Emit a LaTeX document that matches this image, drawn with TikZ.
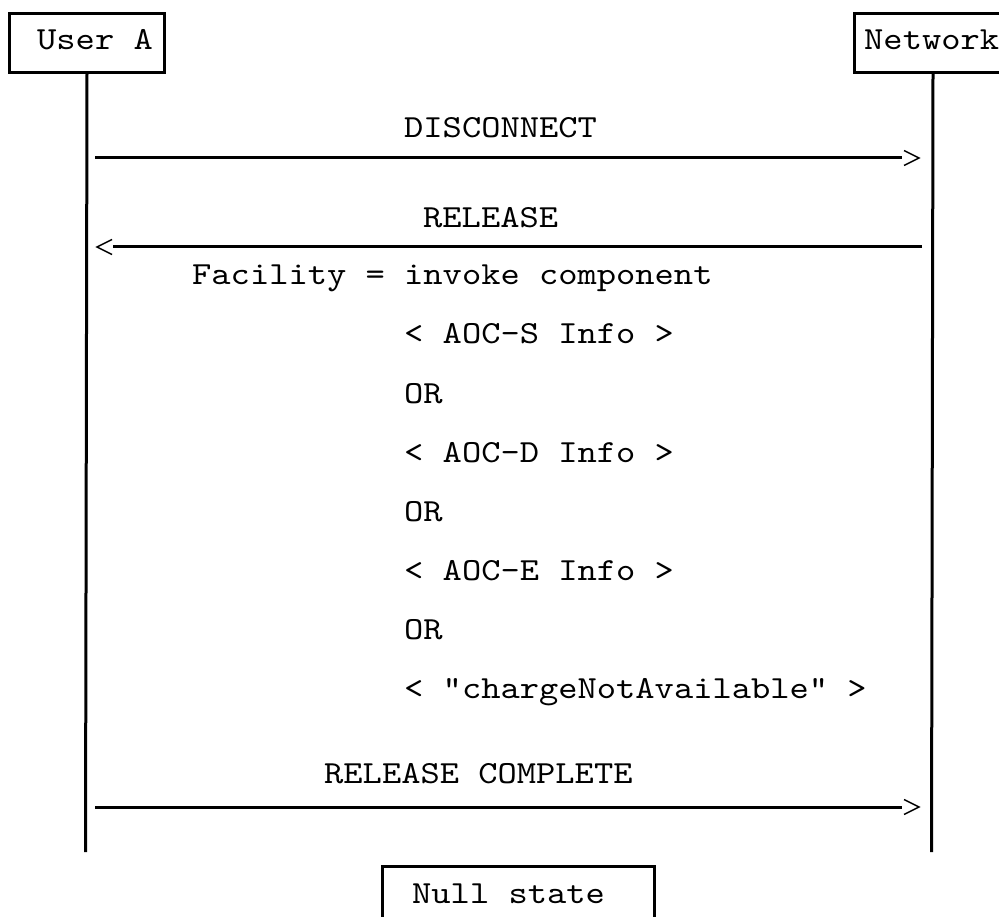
\documentclass[tikz,border=0pt]{standalone}
\usepackage{fontspec}
\newfontfamily\courlike[FakeStretch=1.14]{lmmono10-regular.otf}
\begin{document}
\begin{tikzpicture}[x=1pt,y=-1pt,
  lbl/.style={font=\courlike\fontsize{32.2}{38}\selectfont, inner sep=0pt, anchor=base west},
  boxline/.style={draw, line width=3pt, inner sep=0pt},
  msg/.style={line width=3pt},
  life/.style={line width=3pt},
  tip/.style={line width=1.5pt}]
\clip (0,0) rectangle (999,917);
% instance boxes
\node[boxline, minimum width=155pt, minimum height=59pt, anchor=north west] (ua) at (8,12) {};
\node[boxline, minimum width=157pt, minimum height=59pt, anchor=north west] (nw) at (853,12) {};
\node[lbl] (uat) at (37,50) {User A};
\node[lbl] (nwt) at (864,50) {Network};
% lifelines
\coordinate (uaend) at (85.5,852);
\coordinate (nwend) at (931.5,852);
\draw[life] (ua.south) -- (uaend);
\draw[life] (nw.south) -- (nwend);
% DISCONNECT
\node[lbl] (disc) at (404,138) {DISCONNECT};
\coordinate (d1) at (95,158); \coordinate (d2) at (902,158);
\draw[msg] (d1) -- (d2);
\draw[tip] (d2) ++(2,-7.5) -- ++(15,7.5) -- ++(-15,7.5);
% RELEASE
\node[lbl] (rel) at (423,228) {RELEASE};
\coordinate (r1) at (922,247); \coordinate (r2) at (113,247);
\draw[msg] (r1) -- (r2);
\draw[tip] (r2) ++(-1,-7.5) -- ++(-15,7.5) -- ++(15,7.5);
% facility contents
\node[lbl] (fac) at (192,285) {Facility = invoke component};
\node[lbl] (aocs) at (404,344) {< AOC-S Info >};
\node[lbl] (or1) at (404,403) {OR};
\node[lbl] (aocd) at (404,462) {< AOC-D Info >};
\node[lbl] (or2) at (404,521) {OR};
\node[lbl] (aoce) at (404,580) {< AOC-E Info >};
\node[lbl] (or3) at (404,639) {OR};
\node[lbl] (cna) at (404,698) {< "chargeNotAvailable" >};
% RELEASE COMPLETE
\node[lbl] (relc) at (324,783) {RELEASE COMPLETE};
\coordinate (c1) at (95,807); \coordinate (c2) at (902,807);
\draw[msg] (c1) -- (c2);
\draw[tip] (c2) ++(2,-7.5) -- ++(15,7.5) -- ++(-15,7.5);
% Null state
\node[boxline, minimum width=272pt, minimum height=80pt, anchor=north west] (null) at (381,865) {};
\node[lbl] (nullt) at (412,903) {Null state};
\end{tikzpicture}
\end{document}
